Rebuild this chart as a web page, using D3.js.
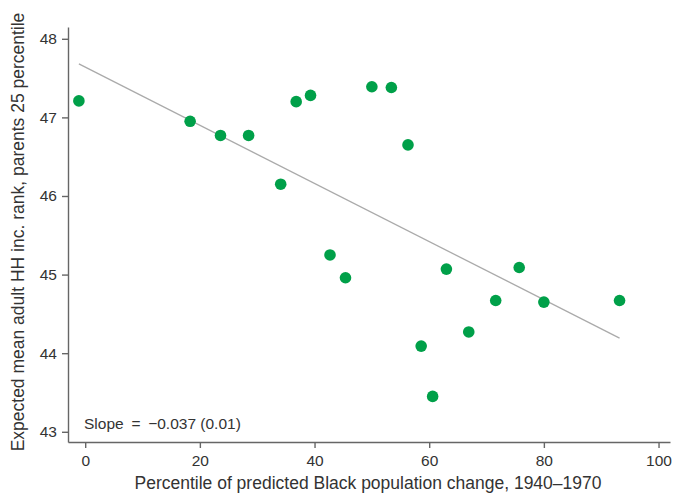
<!DOCTYPE html>
<meta charset="utf-8">
<title>Black population change and upward mobility</title>
<style>
body { margin: 0; background: #fff; }
text { font-family: "Liberation Sans", Arial, Helvetica, sans-serif; fill: #333; }
.axis path, .axis line { stroke: #666; stroke-width: 1.4px; }
.axis text { font-size: 15.5px; fill: #333; }
.labels { font-size: 17.5px; }
.note { font-size: 15.5px; }
</style>
<script src="https://d3js.org/d3.v7.min.js"></script>
<div id="my_dataviz"></div>
<script>

// percentile of predicted Black population change, 1940-1970
var pctChange = [-1.1, 18.3, 23.6, 28.5, 34.1, 36.8, 39.3, 50.0, 53.4, 56.3,
                 42.7, 45.4, 63.0, 75.7, 71.6, 80.0, 93.2, 66.9, 58.6, 60.6];
// expected mean adult HH income rank, parents at 25th percentile
var incRank = [47.21, 46.95, 46.77, 46.77, 46.15, 47.20, 47.28, 47.39, 47.38, 46.65,
               45.25, 44.96, 45.07, 45.09, 44.67, 44.65, 44.67, 44.27, 44.09, 43.45];
var xTicks = [0, 20, 40, 60, 80, 100];
var yTicks = [43, 44, 45, 46, 47, 48];
var fitIntercept = 47.64, fitSlope = -0.037;

var width = 674, height = 498;

var svg = d3.select("#my_dataviz")
  .append("svg")
    .attr("width", width)
    .attr("height", height);

var x = d3.scaleLinear()
  .domain([-3, 102])
  .range([68, 670]);

var y = d3.scaleLinear()
  .domain([42.87, 48.15])
  .range([442, 27]);

// axes
svg.append("g")
  .attr("class", "axis")
  .attr("transform", "translate(0,442)")
  .call(d3.axisBottom(x).tickValues(xTicks).tickFormat(d3.format("d"))
    .tickSize(6).tickPadding(4).tickSizeOuter(0))
  .selectAll("text").attr("dy", "0.9em");

svg.append("g")
  .attr("class", "axis")
  .attr("transform", "translate(68,0)")
  .call(d3.axisLeft(y).tickValues(yTicks).tickFormat(d3.format("d"))
    .tickSize(6).tickPadding(5).tickSizeOuter(0));

// fit line
var xs = d3.extent(pctChange);
svg.append("line")
  .attr("x1", x(xs[0]))
  .attr("y1", y(fitIntercept + fitSlope * xs[0]))
  .attr("x2", x(xs[1]))
  .attr("y2", y(fitIntercept + fitSlope * xs[1]))
  .attr("stroke", "#aaa")
  .attr("stroke-width", 1.3);

// points
svg.selectAll("circle.dot")
  .data(pctChange)
  .enter()
  .append("circle")
    .attr("class", "dot")
    .attr("cx", function(d) { return x(d); })
    .attr("cy", function(d, i) { return y(incRank[i]); })
    .attr("r", 5.8)
    .attr("fill", "#00a049");

svg.append("text")
  .attr("class", "note")
  .attr("x", 84)
  .attr("y", 429)
  .text("Slope\u2002=\u2002\u22120.037 (0.01)");

svg.append("text")
  .attr("class", "labels")
  .attr("x", 368)
  .attr("y", 489)
  .attr("text-anchor", "middle")
  .text("Percentile of predicted Black population change, 1940\u20131970");

svg.append("text")
  .attr("class", "labels")
  .attr("transform", "translate(24,232) rotate(-90)")
  .attr("text-anchor", "middle")
  .text("Expected mean adult HH inc. rank, parents 25 percentile");

</script>
